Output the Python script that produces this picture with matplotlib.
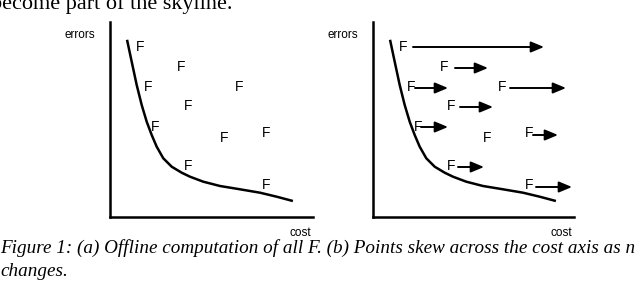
"""Figure 1 - offline skyline of F points, (a) static and (b) skewing along cost."""

import matplotlib
matplotlib.use("Agg")
import matplotlib.pyplot as plt

W, H = 640, 281

# skyline curve (cost, errors), same in both panels
curve_cost = [17.3, 21.7, 26.7, 31.7, 36.7, 41.7, 46.7, 53.3, 61.7, 71.7,
              80, 93.3, 110, 130, 150, 166.7, 181.7]
curve_err = [176, 155.3, 132, 112, 95.3, 82, 70.3, 58.7, 50.3, 44.3,
             40.3, 35.3, 31, 27.7, 24.3, 20.3, 16.3]

# F points (cost, errors)
f_cost = [30, 71, 38, 129, 78, 45, 156, 114, 78, 156]
f_err = [170, 150, 130, 130, 111, 90, 84, 79, 51, 32]

# panel (b): where each point's arrow starts and ends along cost (None = no arrow)
skew_from = [40, 82, 42, 137, 87, 48, 160, None, 85, 163]
skew_to = [171, 115, 75, 193, 120, 75, 185, None, 111, 199]
skew_err = [170, 149, 129, 129, 110, 90, 82, None, 50, 30]

SANS = "Liberation Sans"
SERIF = "Liberation Serif"

fig = plt.figure(figsize=(W / 100, H / 100), dpi=100)


def panel(x0, width):
    ax = fig.add_axes([x0 / W, (H - 217) / H, width / W, 195 / H])
    ax.set_xlim(0, width)
    ax.set_ylim(0, 195)
    for side in ("top", "right"):
        ax.spines[side].set_visible(False)
    for side in ("left", "bottom"):
        ax.spines[side].set_linewidth(1.8)
    ax.set_xticks([])
    ax.set_yticks([])
    ax.patch.set_alpha(0)
    ax.plot(curve_cost, curve_err, color="black", lw=1.8, clip_on=False,
            solid_joinstyle="round")
    for c, e in zip(f_cost, f_err):
        ax.text(c, e, "F", ha="center", va="center", fontsize=10, family=SANS)
    ax.text(-30, 182, "errors", ha="center", va="center", fontsize=8.5, family=SANS)
    ax.text(width - 13, -16, "cost", ha="center", va="center", fontsize=8.5, family=SANS)
    return ax


ax_a = panel(110, 203)
ax_b = panel(373, 201)

for a, b, e in zip(skew_from, skew_to, skew_err):
    if a is None:
        continue
    ax_b.annotate(
        "", xy=(b, e), xytext=(a, e),
        arrowprops=dict(arrowstyle="-|>,head_length=0.6,head_width=0.25",
                        color="black", lw=1.4, mutation_scale=13,
                        shrinkA=0, shrinkB=0),
        annotation_clip=False,
    )

# only the lower half of the preceding body line shows at the top edge
fig.text(-9 / W, 1 - 9.5 / H, "become part of the skyline.", ha="left",
         va="baseline", fontsize=16, family=SERIF)
fig.text(0, 1 - 248 / H,
         "Figure 1: (a) Offline computation of all F. (b) Points skew across the cost axis as n",
         ha="left", va="center", fontsize=13.8, family=SERIF, style="italic")
fig.text(0, 1 - 271 / H, "changes.", ha="left", va="center", fontsize=13.8,
         family=SERIF, style="italic")

fig.savefig("out.png", dpi=100)
